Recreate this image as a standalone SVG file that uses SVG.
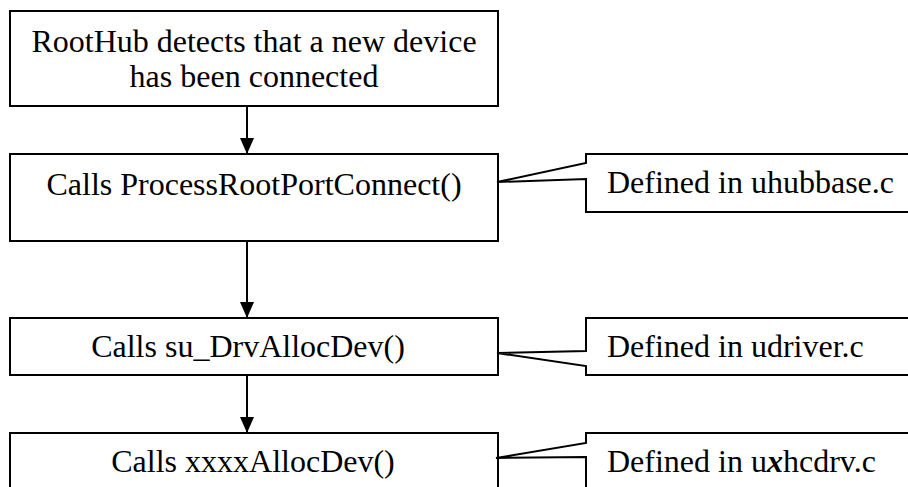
<svg xmlns="http://www.w3.org/2000/svg" width="908" height="487" viewBox="0 0 908 487">
<defs>
<marker id="ah" markerUnits="userSpaceOnUse" markerWidth="16" markerHeight="14" refX="16" refY="7" orient="auto">
<path d="M0,0 L16,7 L0,14 Z" fill="#000"/>
</marker>
<style>
.box{fill:#fff;stroke:#000;stroke-width:2}
.t{font-family:"Liberation Serif","Times New Roman",serif;font-size:32px;fill:#000}
.c{text-anchor:middle}
.edge{stroke:#000;stroke-width:2;fill:none}
</style>
</defs>
<rect width="908" height="487" fill="#fff"/>
<g id="connectors">
<line class="edge" x1="247" y1="106" x2="247" y2="154" marker-end="url(#ah)"/>
<line class="edge" x1="247" y1="241" x2="247" y2="318" marker-end="url(#ah)"/>
<line class="edge" x1="247" y1="375" x2="247" y2="433" marker-end="url(#ah)"/>
</g>
<g id="n1">
<rect class="box" x="10" y="11" width="488" height="95"/>
<text class="t c" x="254" y="52">RootHub detects that a new device</text>
<text class="t c" x="254" y="87">has been connected</text>
</g>
<g id="n2">
<rect class="box" x="10" y="154" width="488" height="87"/>
<text class="t c" x="254" y="195">Calls ProcessRootPortConnect()</text>
</g>
<g id="n3">
<rect class="box" x="10" y="318" width="488" height="57"/>
<text class="t c" x="248" y="357">Calls su_DrvAllocDev()</text>
</g>
<g id="n4">
<rect class="box" x="10" y="433" width="488" height="60"/>
<text class="t c" x="253" y="472">Calls xxxxAllocDev()</text>
</g>
<g id="c1">
<path class="box" d="M586,154 L912,154 L912,212 L586,212 L586,179 L497,182 L586,163 Z"/>
<text class="t" x="607" y="193">Defined in uhubbase.c</text>
</g>
<g id="c2">
<path class="box" d="M586,318 L912,318 L912,375 L586,375 L586,366 L497,353 L586,351 Z"/>
<text class="t" x="607" y="357">Defined in udriver.c</text>
</g>
<g id="c3">
<path class="box" d="M586,433 L912,433 L912,495 L586,495 L586,457 L496,458 L586,443 Z"/>
<text class="t" x="607" y="472">Defined in u<tspan font-weight="bold" font-style="italic">x</tspan>hcdrv.c</text>
</g>
</svg>
